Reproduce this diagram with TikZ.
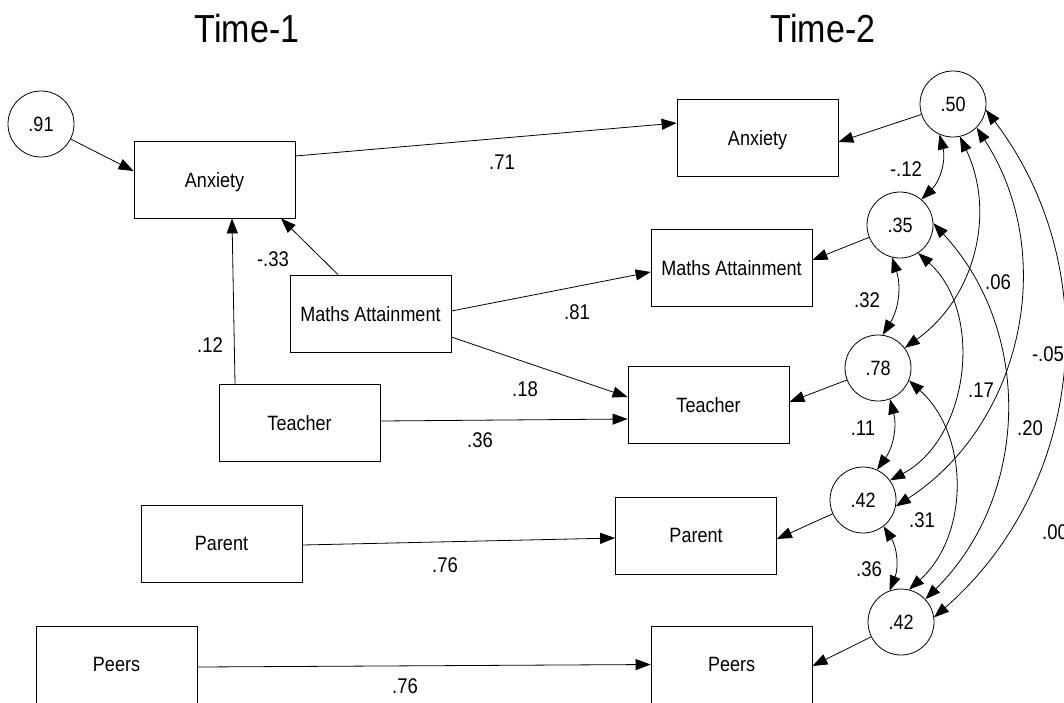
\documentclass[tikz,border=0pt]{standalone}
\usepackage{fontspec}
\usepackage{graphicx}
\setmainfont{Liberation Sans}
\usetikzlibrary{arrows.meta}

% text in the path diagram is set slightly taller than wide
\newcommand{\vstr}[1]{\scalebox{1}[1.15]{#1}}

\tikzset{
  every node/.style={inner sep=0pt},
  obs/.style={draw, line width=0.8pt, minimum width=161pt, minimum height=77pt,
              font=\fontsize{18}{20}\selectfont, text depth=0pt},
  lat/.style={draw, circle, line width=0.8pt, minimum size=66pt,
              font=\fontsize{18}{20}\selectfont, text depth=0pt},
  coef/.style={font=\fontsize{18.5}{20}\selectfont, text depth=0pt},
  head/.style={font=\fontsize{34}{38}\selectfont, text depth=0pt},
  path/.style={-{Triangle[length=15pt,width=11pt]}, line width=0.8pt},
  cov/.style={{Triangle[length=15pt,width=11pt]}-{Triangle[length=15pt,width=11pt]}, line width=0.8pt},
}

\begin{document}
\begin{tikzpicture}[x=1pt, y=1pt]
  \clip (0,0) rectangle (1064,-702);
  \fill[white] (0,0) rectangle (1064,-702);

  % column headings
  \node[head] (h1) at (247,-28) {\vstr{Time-1}};
  \node[head] (h2) at (823,-28) {\vstr{Time-2}};

  % Time-1 measures
  \node[lat] (c91)  at (41,-124)     {\vstr{.91}};
  \node[obs] (aT1)  at (214.5,-179.5) {\vstr{Anxiety}};
  \node[obs] (mT1)  at (370.5,-313.5) {\vstr{Maths Attainment}};
  \node[obs] (tT1)  at (299.5,-422.5) {\vstr{Teacher}};
  \node[obs] (pT1)  at (221.5,-543.5) {\vstr{Parent}};
  \node[obs] (peT1) at (116.5,-664.5) {\vstr{Peers}};

  % Time-2 measures
  \node[obs] (aT2)  at (757.5,-137.5) {\vstr{Anxiety}};
  \node[obs] (mT2)  at (731.5,-267.5) {\vstr{Maths Attainment}};
  \node[obs] (tT2)  at (708.5,-404.5) {\vstr{Teacher}};
  \node[obs] (pT2)  at (696,-535.5)   {\vstr{Parent}};
  \node[obs] (peT2) at (731.5,-664.5) {\vstr{Peers}};

  % residuals of the Time-2 measures
  \node[lat] (c50)  at (953,-104) {\vstr{.50}};
  \node[lat] (c35)  at (900,-225) {\vstr{.35}};
  \node[lat] (c78)  at (878,-368) {\vstr{.78}};
  \node[lat] (c42a) at (863,-500) {\vstr{.42}};
  \node[lat] (c42b) at (901,-622) {\vstr{.42}};

  % regression paths
  \draw[path] (c91) -- ([yshift=8.5]aT1.west);
  \draw[path] ([yshift=23.5]aT1.east) -- ([yshift=14.5]aT2.west);
  \draw[path] ([xshift=-32.5]mT1.north) -- ([xshift=66.5]aT1.south);
  \draw[path] ([xshift=-64.5]tT1.north) -- ([xshift=17.5]aT1.south);
  \draw[path] ([yshift=2.5]mT1.east) -- ([yshift=-4.5]mT2.west);
  \draw[path] ([yshift=-23.5]mT1.east) -- ([yshift=7.5]tT2.west);
  \draw[path] ([yshift=1.5]tT1.east) -- ([yshift=-14.5]tT2.west);
  \draw[path] ([yshift=-1.5]pT1.east) -- ([yshift=-2.5]pT2.west);
  \draw[path] ([yshift=-2.5]peT1.east) -- (peT2.west);

  % residual paths
  \draw[path] (c50)  -- ([yshift=-4.5]aT2.east);
  \draw[path] (c35)  -- ([yshift=7.5]mT2.east);
  \draw[path] (c78)  -- ([yshift=2.5]tT2.east);
  \draw[path] (c42a) -- ([yshift=-3.5]pT2.east);
  \draw[path] (c42b) -- ([yshift=-1.5]peT2.east);

  % residual covariances
  \draw[cov] (c50.246)  to[bend left=30] (c35.50);
  \draw[cov] (c50.282)  to[bend left=40] (c78.37);
  \draw[cov] (c50.315)  to[bend left=45] (c42a.-11);
  \draw[cov] (c50.-10)  to[bend left=43] (c42b.8);
  \draw[cov] (c35.256)  to[bend left=25] (c78.82);
  \draw[cov] (c35.303)  to[bend left=55] (c42a.36);
  \draw[cov] (c35.3)    to[bend left=44] (c42b.43);
  \draw[cov] (c78.291)  to[bend left=25] (c42a.65);
  \draw[cov] (c78.338)  to[bend left=48] (c42b.76);
  \draw[cov] (c42a.308) to[bend left=27] (c42b.110);

  % path coefficients
  \node[coef] (k1)  at (502,-162) {\vstr{.71}};
  \node[coef] (k2)  at (273,-259) {\vstr{-.33}};
  \node[coef] (k3)  at (210,-345) {\vstr{.12}};
  \node[coef] (k4)  at (577,-312) {\vstr{.81}};
  \node[coef] (k5)  at (525,-389) {\vstr{.18}};
  \node[coef] (k6)  at (480,-440) {\vstr{.36}};
  \node[coef] (k7)  at (445,-565) {\vstr{.76}};
  \node[coef] (k8)  at (405,-686) {\vstr{.76}};

  % covariance values
  \node[coef] (r1)  at (906,-169)  {\vstr{-.12}};
  \node[coef] (r2)  at (998,-282)  {\vstr{.06}};
  \node[coef] (r3)  at (1048,-354) {\vstr{-.05}};
  \node[coef] (r4)  at (981,-390)  {\vstr{.17}};
  \node[coef] (r5)  at (1030,-428) {\vstr{.20}};
  \node[coef] (r6)  at (1055,-532) {\vstr{.00}};
  \node[coef] (r7)  at (867,-300)  {\vstr{.32}};
  \node[coef] (r8)  at (863,-428)  {\vstr{.11}};
  \node[coef] (r9)  at (922,-520)  {\vstr{.31}};
  \node[coef] (r10) at (869,-569)  {\vstr{.36}};
\end{tikzpicture}
\end{document}
